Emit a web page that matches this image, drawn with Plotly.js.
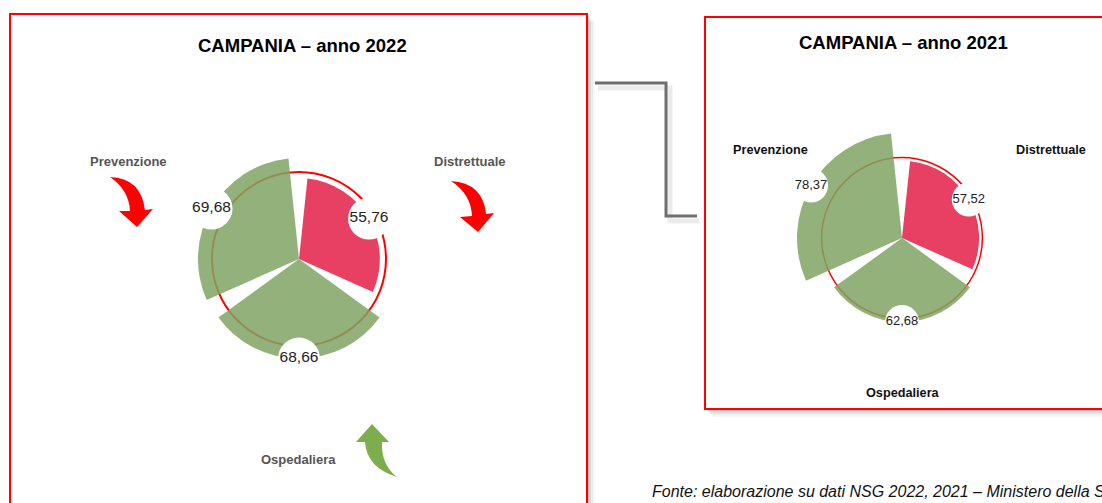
<!DOCTYPE html>
<html><head><meta charset="utf-8">
<script src="https://cdn.plot.ly/plotly-3.0.1.min.js"></script>
<style>html,body{margin:0;padding:0;background:#fff}#chart{width:1102px;height:503px}</style>
</head><body><div id="chart"></div>
<script>
// ---- data ----
const categories = ['Distrettuale', 'Ospedaliera', 'Prevenzione'];
const values2022 = [55.76, 68.66, 69.68];
const values2021 = [57.52, 62.68, 78.37];
const threshold = 60;
const title2022 = 'CAMPANIA \u2013 anno 2022';
const title2021 = 'CAMPANIA \u2013 anno 2021';
const source = 'Fonte: elaborazione su dati NSG 2022, 2021 \u2013 Ministero della Salute';

const W = 1102, H = 503;
const RED = 'rgb(232,64,98)';
const GREEN = 'rgba(128,164,100,0.85)';
const FONT = 'Liberation Sans, Arial, sans-serif';
const fmt = v => v.toFixed(2).replace('.', ',');
const colorsFor = vals => vals.map(v => v < threshold ? RED : GREEN);

// px -> paper helpers
const px = x => x / W, py = y => 1 - y / H;
function pathPx(cmds) {
  return cmds.replace(/(-?\d+(\.\d+)?) (-?\d+(\.\d+)?)/g, (m, a, _b, c) => px(+a).toFixed(5) + ',' + py(+c).toFixed(5));
}

function polarTraces(vals, sub, msize, fsize) {
  return [
    {type: 'barpolar', subplot: sub, theta: categories, r: vals, width: 0.9,
     marker: {color: colorsFor(vals), line: {width: 0}}, hoverinfo: 'skip'},
    {type: 'scatterpolar', subplot: sub, theta: categories, r: vals, mode: 'markers+text',
     text: vals.map(fmt), textposition: 'middle center', cliponaxis: false,
     marker: {color: 'white', size: msize, line: {width: 0}},
     textfont: {family: FONT, size: fsize, color: '#222'}, hoverinfo: 'skip'}
  ];
}

function polarLayout(cx, cy, rad, gw) {
  return {
    domain: {x: [px(cx - rad), px(cx + rad)], y: [py(cy + rad), py(cy - rad)]},
    bgcolor: 'rgba(0,0,0,0)',
    radialaxis: {range: [0, 100], tickvals: [threshold], showgrid: true, gridcolor: 'red', gridwidth: gw,
                 showline: false, showticklabels: false, ticks: ''},
    angularaxis: {type: 'category', rotation: 30, direction: 'clockwise', showgrid: false,
                  showline: false, showticklabels: false, ticks: ''}
  };
}

const data = [].concat(polarTraces(values2022, 'polar', 42, 15.5), polarTraces(values2021, 'polar2', 34, 13));

function rect(x0, y0, x1, y1, line, fill) {
  return {type: 'rect', xref: 'paper', yref: 'paper', x0: px(x0), x1: px(x1), y0: py(y1), y1: py(y0),
          line: line, fillcolor: fill || 'rgba(0,0,0,0)', layer: 'below'};
}
const shapes = [];
// shadows of boxes
[[2, 0.12], [4, 0.08], [6, 0.05], [8, 0.03]].forEach(([o, a]) => {
  shapes.push(rect(10 + o, 14 + o, 587 + o, 520, {width: 0}, 'rgba(0,0,0,' + a + ')'));
  shapes.push(rect(705 + o, 17 + o, 1120, 409 + o, {width: 0}, 'rgba(0,0,0,' + a + ')'));
});
shapes.push(rect(10, 14, 587, 520, {width: 0}, '#fff'));
shapes.push(rect(705, 17, 1120, 409, {width: 0}, '#fff'));
shapes.push(Object.assign(rect(10, 14, 587, 520, {color: '#ff0000', width: 2}), {layer: 'above'}));
shapes.push(Object.assign(rect(705, 17, 1120, 409, {color: '#ff0000', width: 2}), {layer: 'above'}));
// connector line with shadow
shapes.push({type: 'path', xref: 'paper', yref: 'paper', path: pathPx('M 598 88 L 670 88 L 670 221 L 699 221'),
             line: {color: 'rgba(0,0,0,0.08)', width: 5}});
shapes.push({type: 'path', xref: 'paper', yref: 'paper', path: pathPx('M 595 83 L 666 83 L 666 216 L 697 216'),
             line: {color: '#6e6e6e', width: 3}});
// arrows
shapes.push({type: 'path', xref: 'paper', yref: 'paper', fillcolor: '#ff0000', line: {width: 0},
  path: pathPx('M 110 177 Q 141 178 145 210 L 153 209 L 137 227 L 119 211 L 130 211 Q 129 190 110 177 Z')});
shapes.push({type: 'path', xref: 'paper', yref: 'paper', fillcolor: '#ff0000', line: {width: 0},
  path: pathPx('M 451 181 Q 483 183 486 214 L 494 213 L 478 232 L 460 217 L 472 216 Q 471 194 451 181 Z')});
shapes.push({type: 'path', xref: 'paper', yref: 'paper', fillcolor: '#7dad4c', line: {width: 0},
  path: pathPx('M 372 424 L 389 442 L 382 442 Q 381 465 397 477 Q 367 468 365 442 L 356 442 Z')});

function ann(x, y, text, size, color, bold, extra) {
  return Object.assign({xref: 'paper', yref: 'paper', x: px(x), y: py(y), xanchor: 'center', yanchor: 'middle',
    showarrow: false, text: bold ? '<b>' + text + '</b>' : text, font: {family: FONT, size: size, color: color}}, extra || {});
}
const annotations = [
  ann(302, 45, title2022, 18.5, '#000', true),
  ann(903, 43, title2021, 18.5, '#000', true),
  ann(128, 161, categories[2], 13, '#555', true),
  ann(470, 161, categories[0], 13, '#555', true),
  ann(299, 459, categories[1], 13, '#555', true),
  ann(770, 150, categories[2], 12.7, '#111', true),
  ann(1051, 150, categories[0], 12.7, '#111', true),
  ann(903, 393, categories[1], 12.7, '#111', true),
  ann(650, 491, '<i>' + source + '</i>', 16, '#111', false, {xanchor: 'left'})
];

const layout = {
  width: W, height: H, autosize: false, margin: {l: 0, r: 0, t: 0, b: 0},
  paper_bgcolor: '#fff', showlegend: false,
  polar: polarLayout(299, 259, 145, 2),
  polar2: polarLayout(902, 238, 134, 1.5),
  shapes: shapes, annotations: annotations
};
Plotly.newPlot('chart', data, layout, {displayModeBar: false, staticPlot: true});
</script></body></html>
